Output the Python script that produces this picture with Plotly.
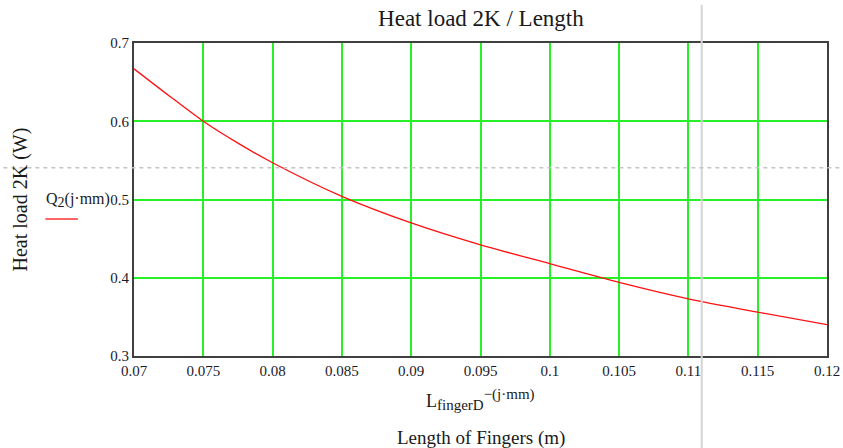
import plotly.graph_objects as go

# Data
length_m = [0.07, 0.0725, 0.075, 0.0775, 0.08, 0.085, 0.09, 0.095, 0.1, 0.105, 0.11, 0.115, 0.12]
heat_load_w = [0.667, 0.633, 0.600, 0.572, 0.547, 0.504, 0.470, 0.442, 0.418, 0.394, 0.373, 0.356, 0.340]

x_ticks = [0.07, 0.075, 0.08, 0.085, 0.09, 0.095, 0.1, 0.105, 0.11, 0.115, 0.12]
x_tick_text = ["0.07", "0.075", "0.08", "0.085", "0.09", "0.095", "0.1", "0.105", "0.11", "0.115", "0.12"]
y_ticks = [0.3, 0.4, 0.5, 0.6, 0.7]
y_tick_text = ["0.3", "0.4", "0.5", "0.6", "0.7"]

cursor_x = 0.11096
cursor_y = 0.5407

FONT = "Liberation Serif, Times New Roman, serif"
GRID = "rgb(40,240,40)"
AXIS = "#404040"

fig = go.Figure()
fig.add_trace(go.Scatter(
    x=length_m, y=heat_load_w, mode="lines",
    line=dict(color="#ff1010", width=1.3, shape="spline", smoothing=0.8),
    showlegend=False, hoverinfo="skip",
))

fig.update_layout(
    width=843, height=448, autosize=False,
    margin=dict(l=134, r=16, t=43, b=92),
    paper_bgcolor="white", plot_bgcolor="white",
    font=dict(family=FONT, size=15, color="#1a1a2a"),
    showlegend=False,
    title=dict(text="Heat load 2K / Length", x=0.5705, xanchor="center",
               y=0.96, yanchor="middle",
               font=dict(family=FONT, size=23, color="#1a1a1a")),
)

fig.update_xaxes(
    range=[0.07, 0.12], tickvals=x_ticks, ticktext=x_tick_text,
    showgrid=True, gridcolor=GRID, gridwidth=2,
    showline=True, linecolor=AXIS, linewidth=2, mirror=True,
    ticks="", zeroline=False, automargin=False,
    tickfont=dict(family=FONT, size=15, color="#1a1a2a"),
)
fig.update_yaxes(
    range=[0.3, 0.7], tickvals=y_ticks, ticktext=y_tick_text,
    showgrid=True, gridcolor=GRID, gridwidth=2,
    showline=True, linecolor=AXIS, linewidth=2, mirror=True,
    ticks="", zeroline=False, ticklabelstandoff=0, automargin=False,
    tickfont=dict(family=FONT, size=15, color="#1a1a2a"),
)

# Cursor lines (Mathcad trace cursor)
fig.add_shape(type="line", xref="x", yref="paper", x0=cursor_x, x1=cursor_x,
              y0=-0.30, y1=1.122, line=dict(color="#d4d4d4", width=2), layer="above")
fig.add_shape(type="line", xref="paper", yref="y", x0=-0.2, x1=1.03,
              y0=cursor_y, y1=cursor_y, line=dict(color="#c4c4c4", width=1.5, dash="4px,4px"),
              layer="above")

# Legend entry (text + red line)
fig.add_annotation(xref="paper", yref="paper", x=-0.081, y=0.498, xanchor="center", yanchor="middle",
                   text="Q<sub><span style='font-size:14px'>2</span></sub>(j·mm)", showarrow=False,
                   font=dict(family=FONT, size=16, color="#1a1a1a"))
fig.add_shape(type="line", xref="paper", yref="paper", x0=-0.128, x1=-0.081,
              y0=0.438, y1=0.438, line=dict(color="#ff3030", width=1.5))

# Axis titles
fig.add_annotation(xref="paper", yref="paper", x=-0.1645, y=0.5, xanchor="center", yanchor="middle",
                   text="Heat load 2K (W)", textangle=-90, showarrow=False,
                   font=dict(family=FONT, size=20, color="#1a1a1a"))
fig.add_annotation(xref="paper", yref="paper", x=0.5, y=-0.14, xanchor="center", yanchor="middle",
                   text=("L<sub><span style='font-size:15px'>fingerD</span></sub>"
                         "<sup><span style='font-size:15px'>−(j·mm)</span></sup>"),
                   showarrow=False,
                   font=dict(family=FONT, size=18, color="#1a1a1a"))
fig.add_annotation(xref="paper", yref="paper", x=0.5, y=-0.262, xanchor="center", yanchor="middle",
                   text="Length of Fingers (m)", showarrow=False,
                   font=dict(family=FONT, size=19, color="#1a1a1a"))

fig.write_html("out.html",
               config={"displayModeBar": False, "responsive": False},
               post_script="document.body.style.margin='0';document.body.style.overflow='hidden';")
